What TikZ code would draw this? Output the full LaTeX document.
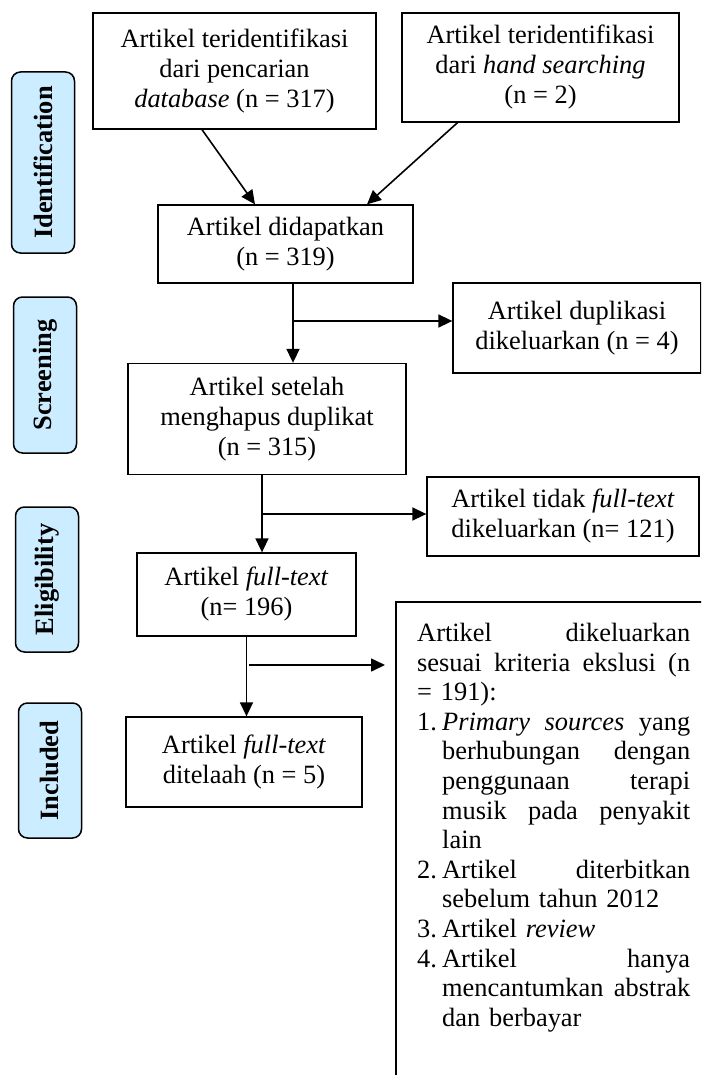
\documentclass[tikz,border=0pt]{standalone}
\usepackage{fontspec}
\setmainfont{Liberation Serif}
\usepackage{xcolor}
\usepackage{tikz}
\usetikzlibrary{arrows.meta,positioning}

\definecolor{phaseblue}{HTML}{CCECFF}

% justified lines of the exclusion box
\newcommand{\resetsp}{\spaceskip=0pt\xspaceskip=0pt\relax}
\newcommand{\jl}[1]{\hbox to 273pt{\resetsp#1}}
\newcommand{\il}[2]{\hbox to 273pt{\resetsp\hbox to 25pt{#1\hfil}\hbox to 248pt{\resetsp#2}}}
\newcommand{\ilr}[2]{\hbox to 273pt{\hbox to 25pt{#1\hfil}#2\hfil}}
\newcommand{\ic}[1]{\hbox to 273pt{\hskip25pt\hbox to 248pt{\resetsp#1}}}
\newcommand{\icl}[1]{\hbox to 273pt{\hskip25pt #1\hfil}}

\begin{document}
\begin{tikzpicture}[x=1pt, y=-1pt,
  font=\fontsize{26.4}{30}\selectfont,
  box/.style={draw, line width=1.3pt, align=center, inner sep=0pt},
  phase/.style={draw, line width=1.5pt, fill=phaseblue, rounded corners=9pt, rotate=90, inner sep=0pt, font=\fontsize{26.4}{30}\selectfont\bfseries},
  arr/.style={line width=1.6pt, -{Triangle[length=14pt, width=13pt]}}
]
\useasboundingbox (0,0) rectangle (701,1075);
\clip (0,0) rectangle (701,1075);

% Phase labels
\foreach \name/\cx/\cy/\len/\txt in {idlab/43/162.5/181/Identification, scrlab/45/375/156/Screening, elilab/47/579.5/145/Eligibility, inclab/50/770.5/135/Included}
  \node[phase, minimum width=\len pt, minimum height=63pt] (\name) at (\cx,\cy) {\txt};

% Identification
\node[box, minimum width=283pt, minimum height=116pt] (dbase) at (234.5,71) {Artikel teridentifikasi\\dari pencarian\\\textit{database} (n = 317)};
\node[box, minimum width=277pt, minimum height=109pt] (hand) at (540.5,67.5) {Artikel teridentifikasi\\dari \textit{hand searching}\\(n = 2)};
\node[box, minimum width=255pt, minimum height=78pt] (found) at (285.5,244) {Artikel didapatkan\\(n = 319)};

% Screening
\node[box, minimum width=248pt, minimum height=90pt] (dupl) at (577,328) {Artikel duplikasi\\dikeluarkan (n = 4)};
\node[box, minimum width=278pt, minimum height=111pt] (nodup) at (267,419) {Artikel setelah\\menghapus duplikat\\(n = 315)};

% Eligibility
\node[box, minimum width=272pt, minimum height=79pt] (notfull) at (563,516.5) {Artikel tidak \textit{full-text}\\dikeluarkan (n= 121)};
\node[box, minimum width=219pt, minimum height=83pt] (full) at (246.5,594.5) {Artikel \textit{full-text}\\(n= 196)};
\node[align=left, text width=273pt, inner sep=21pt, anchor=north west, font=\fontsize{26.4}{29.6}\selectfont] (excl) at (396,602) {%
\jl{Artikel dikeluarkan}
\jl{sesuai kriteria ekslusi (n}
\hbox{= 191):}
\il{1.}{\textit{Primary sources} yang}
\ic{berhubungan dengan}
\ic{penggunaan terapi}
\ic{musik pada penyakit}
\icl{lain}
\il{2.}{Artikel diterbitkan}
\icl{sebelum tahun 2012}
\ilr{3.}{Artikel \textit{review}}
\il{4.}{Artikel hanya}
\ic{mencantumkan abstrak}
\icl{dan berbayar}};
\draw[line width=1.3pt] ([xshift=40pt]excl.north east) -- (excl.north west) -- ([yshift=-80pt]excl.south west);

% Included
\node[box, minimum width=236pt, minimum height=90pt] (incl) at (244,762) {Artikel \textit{full-text}\\ditelaah (n = 5)};

% Connectors
\draw[arr] ([xshift=-32.5pt]dbase.south) -- ([xshift=-30.5pt]found.north);
\draw[arr] ([xshift=-83pt]hand.south) -- ([xshift=81.5pt]found.north);

\coordinate (down1) at ([xshift=7.5pt]found.south);
\draw[arr] (down1) -- (down1 |- nodup.north);
\coordinate (split1) at (293,321);
\draw[arr] (split1) -- (dupl.west |- split1);

\coordinate (down2) at ([xshift=-5pt]nodup.south);
\draw[arr] (down2) -- (down2 |- full.north);
\coordinate (split2) at (262,514);
\draw[arr] (split2) -- (notfull.west |- split2);

\draw[arr] (full.south) -- (full.south |- incl.north);
\coordinate (split3) at (249,665);
\coordinate (gap3) at ([xshift=-11pt]excl.west);
\draw[arr] (split3) -- (gap3 |- split3);

\end{tikzpicture}
\end{document}
